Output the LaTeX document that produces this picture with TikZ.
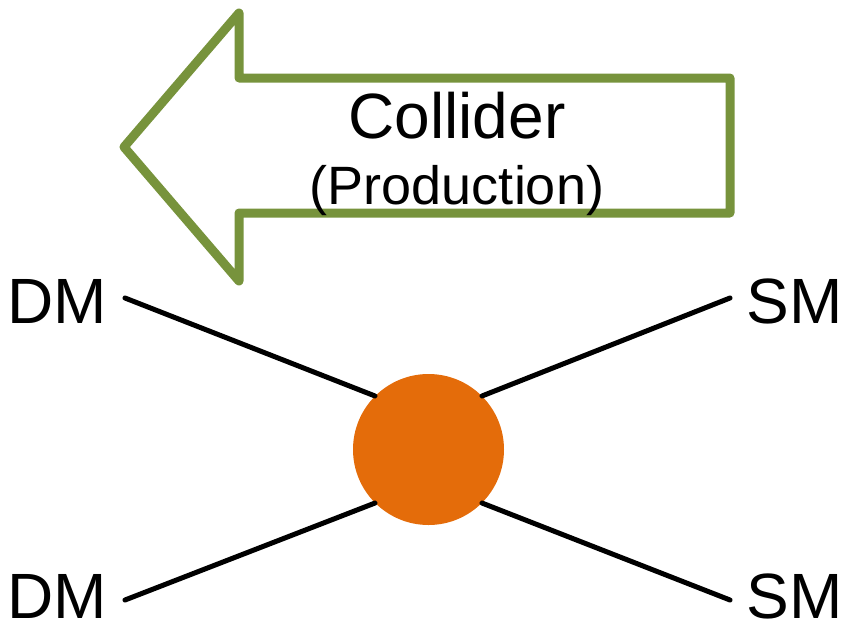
\documentclass[tikz,border=0pt]{standalone}
\usepackage{fontspec}
\setmainfont{Liberation Sans}
\usetikzlibrary{positioning}

\definecolor{arrowgreen}{HTML}{77933C}
\definecolor{blobor}{HTML}{E46C0A}

\begin{document}
\begin{tikzpicture}[x=1pt,y=-1pt,
    lab/.style={inner sep=0pt,font=\fontsize{64}{76}\selectfont},
    sublab/.style={inner sep=0pt,font=\fontsize{54}{64}\selectfont},
    leg/.style={line width=5pt,line cap=round},
    blob/.style={circle,fill=blobor,minimum size=151pt,inner sep=0pt}]

  \useasboundingbox (0,0) rectangle (844,630);

  % big arrow
  \draw [arrowgreen,line width=9pt,line join=round]
    (124,147) -- (239,13) -- (239,78) -- (730,78) -- (730,213)
    -- (239,213) -- (239,281) -- cycle;

  \node [lab,anchor=base] (coll) at (457,138) {Collider};
  \node [sublab,anchor=base] (prod) at (457,204) {(Production)};

  \node [lab,anchor=base west] (DMa) at (7,323) {DM};
  \node [lab,anchor=base west] (DMb) at (7,618) {DM};
  \node [lab,anchor=base east] (SMa) at (843,323) {SM};
  \node [lab,anchor=base east] (SMb) at (843,618) {SM};

  \node [blob] (blobnode) at (428.5,449.5) {};

  \coordinate (inA) at (125,298);
  \coordinate (inB) at (125,600);
  \coordinate (outA) at (730,298);
  \coordinate (outB) at (730,600);

  \path [draw,leg]
    (inA)  edge (blobnode.135)
    (inB)  edge (blobnode.225)
    (outA) edge (blobnode.45)
    (outB) edge (blobnode.315);

\end{tikzpicture}
\end{document}
